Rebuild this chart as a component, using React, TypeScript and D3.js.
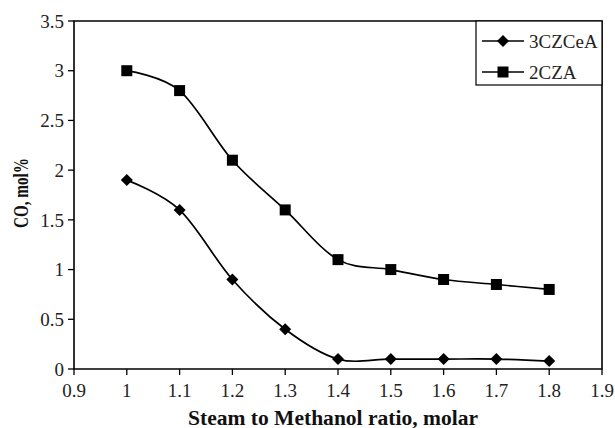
import React from "react";
import * as d3 from "d3";

const ratios = [1.0, 1.1, 1.2, 1.3, 1.4, 1.5, 1.6, 1.7, 1.8];
const seriesNames = ["3CZCeA", "2CZA"];
const co3CZCeA = [1.9, 1.6, 0.9, 0.4, 0.1, 0.1, 0.1, 0.1, 0.08];
const co2CZA = [3.0, 2.8, 2.1, 1.6, 1.1, 1.0, 0.9, 0.85, 0.8];
const xTicks = [0.9, 1.0, 1.1, 1.2, 1.3, 1.4, 1.5, 1.6, 1.7, 1.8, 1.9];
const yTicks = [0, 0.5, 1, 1.5, 2, 2.5, 3, 3.5];

const W = 615, H = 428;
const left = 74, right = 602, top = 21, bottom = 369;
const font = "'Liberation Serif', 'Times New Roman', serif";

function Marker({ kind, x, y }: { kind: string; x: number; y: number }) {
  if (kind === "square") {
    return <rect x={x - 5.5} y={y - 5.5} width={11} height={11} fill="#000" />;
  }
  const r = 6;
  return <path d={`M${x},${y - r}L${x + r},${y}L${x},${y + r}L${x - r},${y}Z`} fill="#000" />;
}

export default function App() {
  const x = d3.scaleLinear().domain([0.9, 1.9]).range([left, right]);
  const y = d3.scaleLinear().domain([0, 3.5]).range([bottom, top]);
  const line = d3
    .line<number>()
    .x((_, i) => x(ratios[i]))
    .y((d) => y(d))
    .curve(d3.curveCardinal.tension(0));
  const series = [
    { name: seriesNames[0], values: co3CZCeA, kind: "diamond" },
    { name: seriesNames[1], values: co2CZA, kind: "square" },
  ];
  const fmt = (v: number) => (v === 0 ? "0" : String(+v.toFixed(1)));
  const lgX = 476, lgY = 21, lgW = 126, lgH = 64;
  return (
    <svg width={W} height={H} style={{ position: "absolute", left: 0, top: 0, background: "#fff" }} fontFamily={font}>
      <rect x={0} y={0} width={W} height={H} fill="#fff" />
      {/* frame */}
      <path d={`M${left},${bottom}L${left},${top}L${right},${top}L${right},${bottom}Z`} fill="none" stroke="#000" strokeWidth={1.6} />
      {/* y ticks */}
      {yTicks.map((t) => (
        <g key={"y" + t}>
          <line x1={left - 6} x2={left} y1={y(t)} y2={y(t)} stroke="#000" strokeWidth={1.3} />
          <text x={left - 10} y={y(t)} dy="0.35em" textAnchor="end" fontSize={19} fill="#222">
            {fmt(t)}
          </text>
        </g>
      ))}
      {/* x ticks */}
      {xTicks.map((t) => (
        <g key={"x" + t}>
          <line x1={x(t)} x2={x(t)} y1={bottom} y2={bottom + 6} stroke="#000" strokeWidth={1.3} />
          <text x={x(t)} y={bottom + 28} textAnchor="middle" fontSize={19} fill="#222">
            {fmt(t)}
          </text>
        </g>
      ))}
      {/* series */}
      {series.map((s) => (
        <g key={s.name}>
          <path d={line(s.values) || ""} fill="none" stroke="#000" strokeWidth={1.7} />
          {s.values.map((v, i) => (
            <Marker key={i} kind={s.kind} x={x(ratios[i])} y={y(v)} />
          ))}
        </g>
      ))}
      {/* legend */}
      <rect x={lgX} y={lgY} width={lgW} height={lgH} fill="#fff" stroke="#000" strokeWidth={1.2} />
      {series.map((s, i) => {
        const ly = 41 + i * 31;
        return (
          <g key={"lg" + s.name}>
            <line x1={482} x2={524} y1={ly} y2={ly} stroke="#000" strokeWidth={1.7} />
            <Marker kind={s.kind} x={503} y={ly} />
            <text x={529} y={ly} dy="0.35em" fontSize={19} fill="#222">
              {s.name}
            </text>
          </g>
        );
      })}
      {/* axis titles */}
      <text x={333} y={425} textAnchor="middle" fontSize={20} fontWeight="bold" fill="#111"
        textLength={290} lengthAdjust="spacingAndGlyphs">
        Steam to Methanol ratio, molar
      </text>
      <text
        transform={`translate(28,193) rotate(-90)`}
        textAnchor="middle"
        fontSize={22}
        fontWeight="bold"
        fill="#111"
        textLength={70}
        lengthAdjust="spacingAndGlyphs"
      >
        CO, mol%
      </text>
    </svg>
  );
}
